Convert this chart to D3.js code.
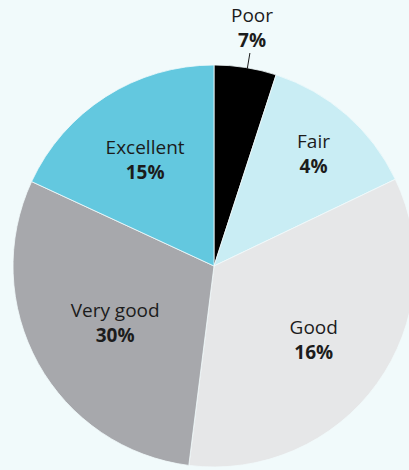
<!DOCTYPE html>
<html>
<head>
<meta charset="utf-8">
<script src="https://cdn.jsdelivr.net/npm/d3@7"></script>
<style>
  html, body { margin: 0; padding: 0; background: #f1fafb; }
  svg { display: block; }
  text { font-family: "Open Sans", "Noto Sans", sans-serif; fill: #1c1c1c; }
</style>
</head>
<body>
<div id="chart"></div>
<script>
// slice sizes (as drawn) and printed labels
const categories = ['Poor', 'Fair', 'Good', 'Very good', 'Excellent']
const sliceValues = [5, 12.9, 34.1, 29.9, 18.1]
const printedPct = ['7%', '4%', '16%', '30%', '15%']
const colors = ['#000000', '#c9edf4', '#e6e7e8', '#a7a8ac', '#63c8df']

const width = 409
const height = 470
const cx = 214
const cy = 266
const radius = 201

const svg = d3.select('#chart')
  .append('svg')
  .attr('width', width)
  .attr('height', height)

svg.append('rect')
  .attr('width', width)
  .attr('height', height)
  .attr('fill', '#f1fafb')

const g = svg.append('g')
  .attr('transform', `translate(${cx},${cy})`)

const data = categories.map((c, i) => ({ name: c, value: sliceValues[i], pct: printedPct[i], color: colors[i] }))

const pie = d3.pie()
  .sort(null)
  .value(d => d.value)

const arcs = pie(data)

const arc = d3.arc()
  .innerRadius(0)
  .outerRadius(radius)

g.selectAll('path.slice')
  .data(arcs)
  .enter()
  .append('path')
  .attr('class', 'slice')
  .attr('d', arc)
  .attr('fill', d => d.data.color)
  .attr('stroke', '#f1fafb')
  .attr('stroke-width', 0.8)

// label radius per slice, small slices go outside
const labelR = { 'Poor': 243, 'Fair': 151, 'Good': 123, 'Very good': 113, 'Excellent': 128 }
const midAngle = d => (d.startAngle + d.endAngle) / 2

const labels = g.selectAll('g.label')
  .data(arcs)
  .enter()
  .append('g')
  .attr('class', 'label')
  .attr('transform', d => {
    const a = midAngle(d)
    const r = labelR[d.data.name]
    return `translate(${Math.sin(a) * r},${-Math.cos(a) * r})`
  })

labels.append('text')
  .attr('text-anchor', 'middle')
  .attr('y', -4)
  .style('font-size', '19px')
  .style('font-weight', 400)
  .text(d => d.data.name)

labels.append('text')
  .attr('text-anchor', 'middle')
  .attr('y', 21)
  .style('font-size', '19px')
  .style('font-weight', 700)
  .text(d => d.data.pct)

// leader line for outside label
const outside = arcs.filter(d => labelR[d.data.name] > radius)
g.selectAll('line.leader')
  .data(outside)
  .enter()
  .append('line')
  .attr('class', 'leader')
  .attr('x1', d => Math.sin(midAngle(d) + 0.01) * (radius - 1))
  .attr('y1', d => -Math.cos(midAngle(d) + 0.01) * (radius - 1))
  .attr('x2', d => Math.sin(midAngle(d) + 0.01) * (radius + 15))
  .attr('y2', d => -Math.cos(midAngle(d) + 0.01) * (radius + 15))
  .attr('stroke', '#1c1c1c')
  .attr('stroke-width', 1)
</script>
</body>
</html>
